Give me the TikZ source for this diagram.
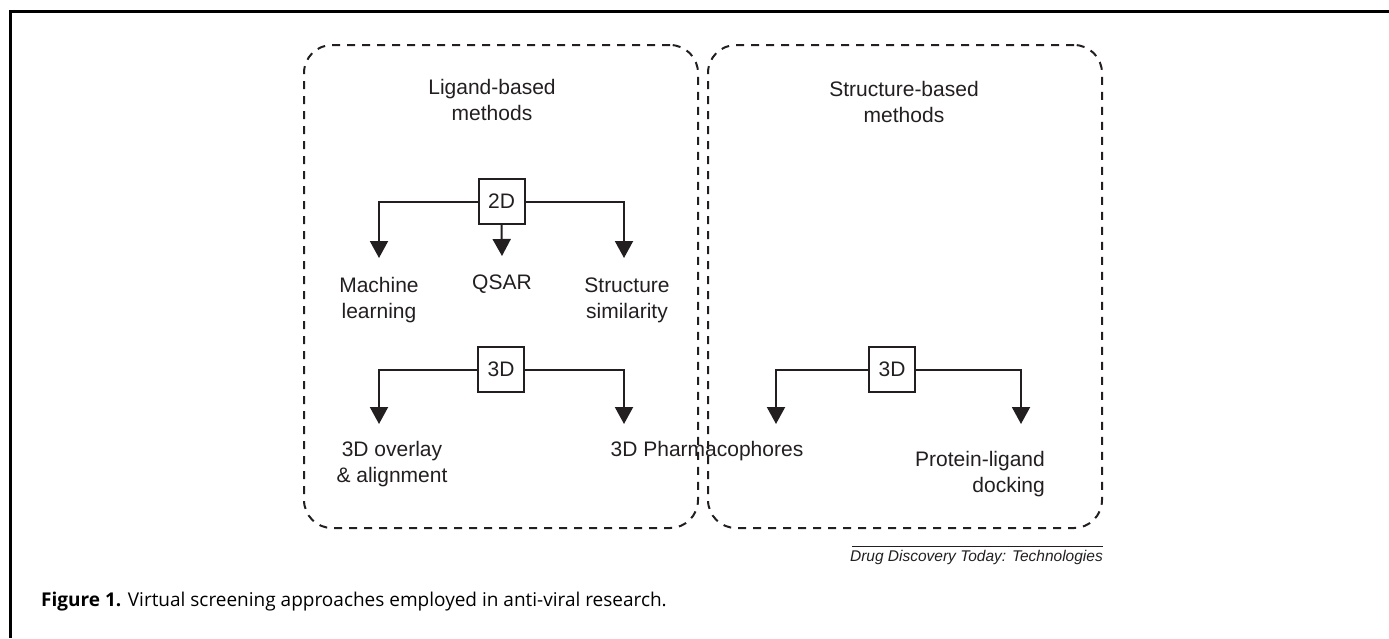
\documentclass[tikz,border=0pt]{standalone}
\usepackage{fontspec}
\setmainfont{Liberation Sans}
\newfontfamily\capfont{Open Sans}
\usetikzlibrary{arrows.meta}
\definecolor{ink}{HTML}{231F20}
\begin{document}
\begin{tikzpicture}[x=1pt,y=-1pt,
  group/.style={draw=ink, line width=2pt, dash pattern=on 8pt off 7pt, rounded corners=28pt, minimum width=394pt, minimum height=483pt, inner sep=0pt},
  lbl/.style={text=ink, font=\fontsize{21}{26}\selectfont, align=center, inner sep=0pt},
  dimbox/.style={draw=ink, line width=2pt, minimum width=46pt, minimum height=45pt, inner sep=0pt, text=ink, font=\fontsize{21}{26}\selectfont},
  conn/.style={draw=ink, line width=2pt, -{Triangle[width=18pt,length=17pt]}},
]
\useasboundingbox (0,0) rectangle (1389,638);
\draw[line width=3pt] (1389,11) -- (10,11) -- (10,638);

% groups
\node[group] (lig) at (501,286.5) {};
\node[group] (str) at (905,286.5) {};

\node[lbl] (ligt) at (492,100) {Ligand-based\\methods};
\node[lbl] (strt) at (904,102) {Structure-based\\methods};

% 2D
\node[dimbox] (b2) at (501.5,201.5) {2D};
\coordinate (t2a) at (379,258);
\coordinate (t2b) at (502,256);
\coordinate (t2c) at (624,258);
\draw[conn] (b2.west) -| (t2a);
\draw[conn] (b2.south) -- (t2b);
\draw[conn] (b2.east) -| (t2c);
\node[lbl] (ml) at (379,300) {Machine\\learning};
\node[lbl] (qsar) at (502,284) {QSAR};
\node[lbl] (ss) at (627,300) {Structure\\similarity};

% 3D ligand
\node[dimbox] (b3) at (501,369.5) {3D};
\coordinate (t3a) at (379,424);
\coordinate (t3b) at (624,424);
\draw[conn] (b3.west) -| (t3a);
\draw[conn] (b3.east) -| (t3b);
\node[lbl] (ov) at (392,464) {3D overlay\\\& alignment};
\node[lbl] (ph) at (707,451) {3D Pharmacophores};

% 3D structure
\node[dimbox] (s3) at (892,369.5) {3D};
\coordinate (t4a) at (776,424);
\coordinate (t4b) at (1021,424);
\draw[conn] (s3.west) -| (t4a);
\draw[conn] (s3.east) -| (t4b);
\node[lbl, align=right, anchor=east] (pl) at (1045,474.5) {Protein-ligand\\docking};

% footer
\coordinate (fa) at (852,546);
\coordinate (fb) at (1103,546);
\draw[ink, line width=1pt] (fa) -- (fb);
\node[text=ink, font=\fontsize{15.5}{18}\selectfont\itshape, anchor=east, inner sep=0pt] (src) at (1103,557) {Drug Discovery Today: Technologies};

% caption
\node[anchor=west, inner sep=0pt, font=\capfont\fontsize{19}{22}\selectfont] (cap) at (41,602) {\textbf{Figure 1.} Virtual screening approaches employed in anti-viral research.};
\end{tikzpicture}
\end{document}
